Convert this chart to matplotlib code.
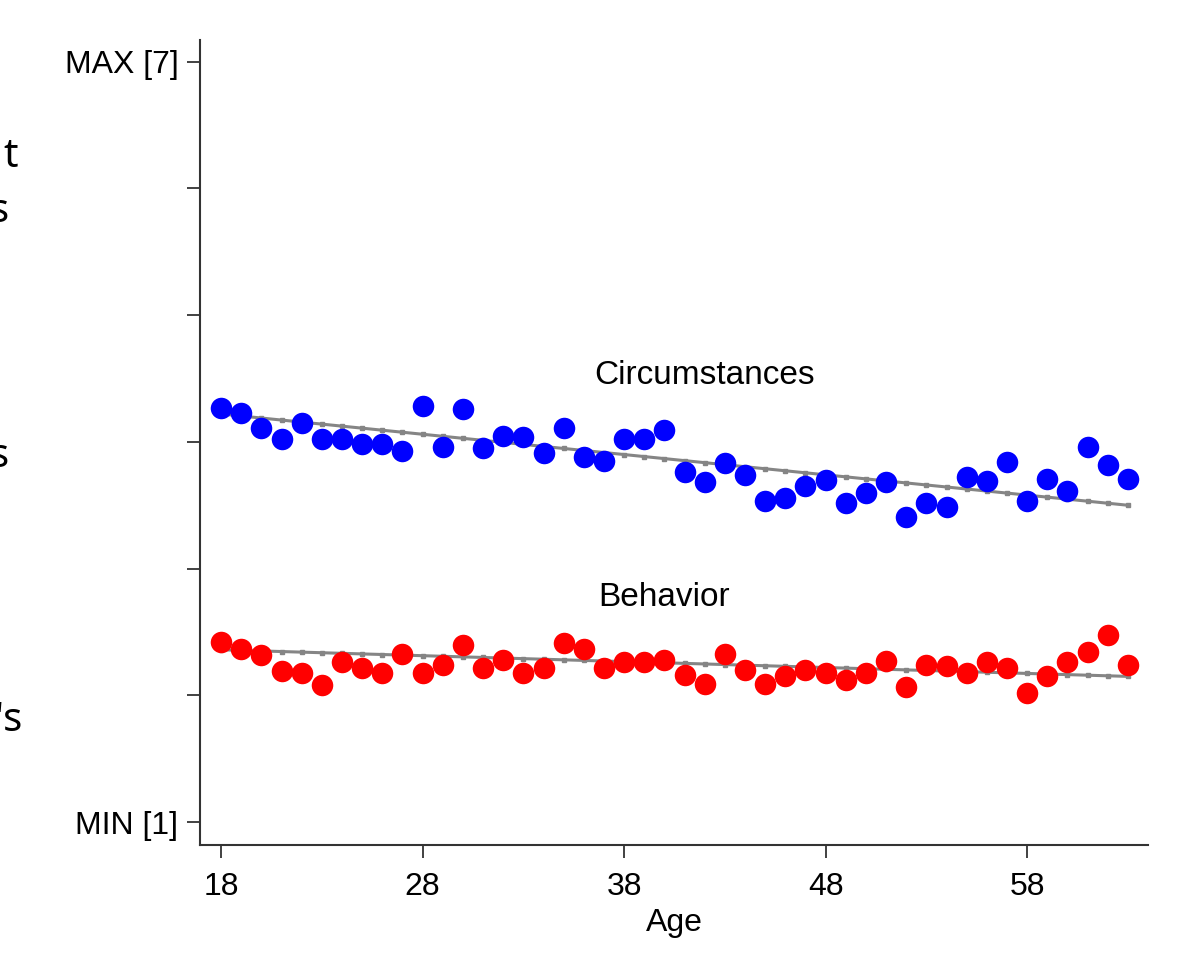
import numpy as np
import matplotlib
matplotlib.use('Agg')
import matplotlib.pyplot as plt

# 年龄（18-63岁）
ages = np.arange(18, 64)

# Circumstances 平均值
circumstances = [4.27, 4.23, 4.11, 4.02, 4.15, 4.02, 4.02, 3.98, 3.98, 3.93,
                 4.28, 3.96, 4.26, 3.95, 4.05, 4.04, 3.91, 4.11, 3.88, 3.85,
                 4.02, 4.02, 4.09, 3.76, 3.68, 3.83, 3.74, 3.53, 3.56, 3.65,
                 3.70, 3.52, 3.60, 3.68, 3.41, 3.52, 3.49, 3.72, 3.69, 3.84,
                 3.53, 3.71, 3.61, 3.96, 3.82, 3.71]

# Behavior 平均值
behavior = [2.42, 2.37, 2.32, 2.19, 2.18, 2.08, 2.26, 2.22, 2.18, 2.33,
            2.18, 2.24, 2.40, 2.22, 2.28, 2.18, 2.22, 2.41, 2.37, 2.22,
            2.26, 2.26, 2.28, 2.16, 2.09, 2.33, 2.20, 2.09, 2.15, 2.20,
            2.18, 2.12, 2.18, 2.27, 2.07, 2.24, 2.23, 2.18, 2.26, 2.22,
            2.02, 2.15, 2.26, 2.34, 2.48, 2.24]

# 拟合线两端的值（18岁和63岁）
fit_ages = [18, 63]
circ_fit = [4.22, 3.50]
behav_fit = [2.36, 2.15]

x_ticks = [18, 28, 38, 48, 58]
y_ticks = [1, 2, 3, 4, 5, 6, 7]
y_ticklabels = ['MIN [1]', '', '', '', '', '', 'MAX [7]']

plt.rcParams['font.family'] = ['Liberation Sans', 'DejaVu Sans']

W, H = 1179, 973
fig = plt.figure(figsize=(W / 100, H / 100), dpi=100)
ax = fig.add_axes([200 / W, 1 - 845 / H, 948 / W, 805 / H])

# 拟合线，每个年龄处有小方点
for fit in (circ_fit, behav_fit):
    ax.plot(ages, np.interp(ages, fit_ages, fit), color='#858585', lw=2.2,
            marker='s', ms=2.5, zorder=2)

ax.plot(ages, circumstances, 'o', color='#0000ff', ms=15.5, mec='none', zorder=3)
ax.plot(ages, behavior, 'o', color='#ff0000', ms=15.5, mec='none', zorder=3)

ax.text(42, 4.52, 'Circumstances', ha='center', va='center', fontsize=24)
ax.text(40, 2.77, 'Behavior', ha='center', va='center', fontsize=24)

ax.set_xlim(16.95, 64)
ax.set_ylim(0.82, 7.17)
ax.set_xticks(x_ticks)
ax.set_yticks(y_ticks)
ax.set_yticklabels(y_ticklabels)
ax.set_xlabel('Age', fontsize=23, labelpad=4)

for s in ('top', 'right'):
    ax.spines[s].set_visible(False)
for s in ('left', 'bottom'):
    ax.spines[s].set_color('#333333')
    ax.spines[s].set_linewidth(1.5)
ax.tick_params(axis='both', length=9.5, width=1.3, color='#333333',
               labelsize=23, pad=6)
ax.tick_params(axis='x', pad=10)

# 左侧幻灯片残留文字
frag = dict(fontsize=29, family=['Noto Sans', 'DejaVu Sans'], va='center',
            ha='right')
fig.text(18 / W, 1 - 157 / H, 't', **frag)
fig.text(9 / W, 1 - 212 / H, 's', **frag)
fig.text(9 / W, 1 - 457 / H, 's', **frag)
fig.text(23 / W, 1 - 721 / H, "'s", **frag)

fig.savefig('out.png', dpi=100)
